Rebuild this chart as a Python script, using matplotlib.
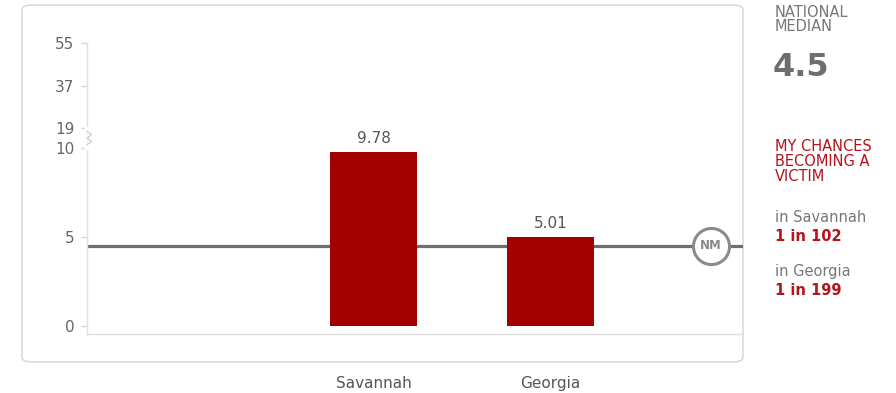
import matplotlib
matplotlib.use("Agg")
import matplotlib.pyplot as plt
import numpy as np
from matplotlib.patches import FancyBboxPatch
from matplotlib.transforms import blended_transform_factory

# data
# ====
cities      = ["Savannah", "Georgia"]
rates       = [9.78, 5.01]
nat_median  = 4.5
yticks      = [0, 5, 10, 19, 37, 55]
chances     = ["1 in 102", "1 in 199"]

BAR_RED  = "#a30000"
TXT_RED  = "#b5121b"
GRAY     = "#666666"

# broken y scale: linear up to 10, a short jump to 19, compressed above
GAP   = 1.124          # 10 -> 19 squeezed into this many "linear" units
SLOPE = 0.1327         # units per value above 19


def fwd(v):
    v = np.asarray(v, dtype=float)
    return np.where(v <= 10, v,
                    np.where(v <= 19, 10 + (v - 10) * GAP / 9,
                             10 + GAP + (v - 19) * SLOPE))


def inv(u):
    u = np.asarray(u, dtype=float)
    return np.where(u <= 10, u,
                    np.where(u <= 10 + GAP, 10 + (u - 10) * 9 / GAP,
                             19 + (u - 10 - GAP) / SLOPE))


plt.rcParams["font.family"] = "DejaVu Sans"
fig = plt.figure(figsize=(8.96, 3.93), dpi=100)

# rounded panel behind the chart
panel = FancyBboxPatch((22 / 896, 31 / 393), 721 / 896, 357 / 393,
                       boxstyle="round,pad=0,rounding_size=0.012",
                       transform=fig.transFigure, facecolor="white",
                       edgecolor="#d4d4d4", lw=1.0, zorder=-1)
fig.patches.append(panel)

ax = fig.add_axes([87 / 896, 59 / 393, 656 / 896, 291 / 393])
ax.patch.set_alpha(0)
ax.set_yscale("function", functions=(fwd, inv))

x = np.arange(len(cities))
ax.bar(x, rates, width=0.49, color=BAR_RED, zorder=3)
ax.axhline(nat_median, color="#6e6e6e", lw=2.3, zorder=2)

for xi, r in zip(x, rates):
    ax.annotate(f"{r:.2f}", (xi, r), xytext=(0, 4), textcoords="offset points",
                ha="center", va="bottom", fontsize=11, color="#555555")

ax.set_xlim(-1.619, 2.088)
ax.set_ylim(-0.45, 55)
ax.set_yticks(yticks)
ax.set_yticklabels([str(t) for t in yticks])
ax.set_xticks(x)
ax.set_xticklabels(cities)
ax.tick_params(axis="y", length=4, width=1, color="#d6d6d6", pad=5,
               labelsize=11, labelcolor=GRAY)
ax.tick_params(axis="x", length=0, pad=30, labelsize=11, labelcolor="#555555")
ax.yaxis.set_minor_locator(matplotlib.ticker.NullLocator())
for s in ("top", "right"):
    ax.spines[s].set_visible(False)
for s in ("left", "bottom"):
    ax.spines[s].set_color("#e0e0e0")
    ax.spines[s].set_linewidth(1.0)

# axis break zigzag between 10 and 19
tb = blended_transform_factory(ax.transAxes, ax.transData)
ax.plot([0, 0, 0.007, 0, 0.007, 0, 0], [10.2, 11.5, 13, 14.5, 16, 17.5, 18.8],
        transform=tb, color="white", lw=3, zorder=4, clip_on=False)
ax.plot([0, 0.007, 0, 0.007, 0], [11.5, 13, 14.5, 16, 17.5],
        transform=tb, color="#cfcfcf", lw=1, zorder=5, clip_on=False)

# national median badge
ax.plot([0.951], [nat_median], transform=tb, marker="o", ms=26,
        mfc="white", mec="#8a8a8a", mew=2.2, zorder=6, clip_on=False)
ax.text(0.951, nat_median, "NM", transform=tb, ha="center", va="center",
        fontsize=8.5, fontweight="bold", color="#8a8a8a", zorder=7)

# side panel text
fig.text(775 / 896, 1 - 5 / 393, "NATIONAL\nMEDIAN", ha="left", va="top",
         fontsize=10.5, color="#777777", linespacing=0.95)
fig.text(773 / 896, 1 - 52 / 393, f"{nat_median}", ha="left", va="top",
         fontsize=23, fontweight="bold", color="#6e6e6e")
fig.text(775 / 896, 1 - 139 / 393, "MY CHANCES\nBECOMING A\nVICTIM",
         ha="left", va="top", fontsize=10.5, color=TXT_RED, linespacing=1.0)
ys = [210, 264]
for y, c, ch in zip(ys, cities, chances):
    fig.text(775 / 896, 1 - y / 393, f"in {c}", ha="left", va="top",
             fontsize=10.5, color="#777777")
    fig.text(775 / 896, 1 - (y + 19) / 393, ch, ha="left", va="top",
             fontsize=10.5, fontweight="bold", color=TXT_RED)

fig.savefig("out.png", dpi=100)
